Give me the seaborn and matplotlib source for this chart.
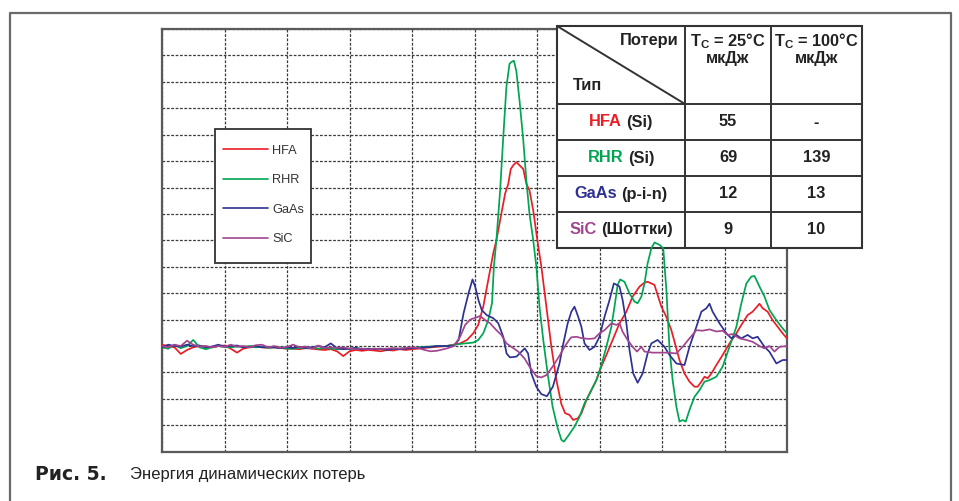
import numpy as np
import pandas as pd
import matplotlib
matplotlib.use("Agg")
import matplotlib.pyplot as plt
import seaborn as sns
from matplotlib.lines import Line2D
from matplotlib.patches import Rectangle

# ---------------- data ----------------
series_names = ["HFA", "RHR", "GaAs", "SiC"]
series_colors = ["#ec1c24", "#00a551", "#2e3192", "#a3448f"]

flat_x = [0.0, 0.1, 0.2, 0.3, 0.4, 0.5, 0.6, 0.7, 0.8, 0.9,
          1.0, 1.1, 1.2, 1.3, 1.4, 1.5, 1.6, 1.7, 1.8, 1.9,
          2.0, 2.1, 2.2, 2.3, 2.4, 2.5, 2.6, 2.7, 2.8, 2.9,
          3.0, 3.1, 3.2, 3.3, 3.4, 3.5, 3.6, 3.7, 3.8, 3.9,
          4.0, 4.1, 4.2, 4.3, 4.4]

hfa_flat = [4.05, 4.0, 3.95, 3.7, 3.85, 3.95, 4.0, 3.98, 3.95, 4.0,
            4.02, 3.9, 3.75, 3.9, 3.95, 3.98, 3.95, 3.93, 3.95, 3.92,
            3.9, 3.9, 3.88, 3.92, 3.9, 3.87, 3.85, 3.88, 3.8, 3.62,
            3.8, 3.85, 3.82, 3.85, 3.83, 3.8, 3.85, 3.83, 3.88, 3.85,
            3.88, 3.9, 3.93, 3.95, 3.97]
rhr_flat = [3.95, 3.9, 4.05, 3.92, 4.0, 4.23, 3.95, 3.88, 3.95, 4.0,
            3.97, 3.95, 3.98, 3.97, 4.0, 3.95, 3.97, 3.93, 3.95, 3.95,
            3.9, 3.9, 3.93, 3.92, 3.95, 3.9, 3.92, 3.9, 3.88, 3.9,
            3.88, 3.92, 3.9, 3.88, 3.9, 3.87, 3.88, 3.9, 3.9, 3.92,
            3.93, 3.95, 3.97, 3.98, 4.0]
gaas_flat = [3.95, 4.05, 4.0, 3.98, 4.05, 4.0, 4.02, 3.95, 3.98, 4.05,
             3.98, 4.0, 4.02, 3.95, 3.97, 4.0, 3.95, 3.97, 3.95, 3.92,
             3.95, 3.93, 3.97, 3.92, 3.95, 4.0, 3.95, 4.1, 3.92, 3.88,
             3.9, 3.93, 3.87, 3.9, 3.88, 3.9, 3.85, 3.9, 3.88, 3.9,
             3.92, 3.93, 3.95, 3.97, 4.0]
sic_flat = [4.0, 3.95, 4.05, 4.0, 4.2, 4.05, 3.98, 4.0, 3.95, 4.0,
            3.97, 4.05, 3.98, 4.0, 3.95, 4.03, 4.05, 3.95, 4.0, 3.93,
            3.97, 4.05, 3.95, 3.98, 3.9, 4.02, 3.92, 3.95, 3.93, 3.95,
            3.9, 3.88, 3.9, 3.87, 3.9, 3.88, 3.9, 3.92, 3.9, 3.93,
            3.95, 3.93, 3.85, 3.8, 3.82]

hfa_x = [4.55, 4.77, 4.88, 4.98, 5.06, 5.14, 5.22, 5.30, 5.35, 5.41, 5.49, 5.54, 5.58,
         5.62, 5.67, 5.72, 5.78, 5.83, 5.88, 5.94, 6.0, 6.07, 6.15, 6.23, 6.31, 6.39,
         6.45, 6.52, 6.58, 6.65, 6.71, 6.79, 6.87, 6.95, 7.03, 7.11, 7.21, 7.32, 7.43,
         7.53, 7.64, 7.72, 7.77, 7.83, 7.88, 7.93, 7.99, 8.07, 8.15, 8.23, 8.28, 8.36,
         8.44, 8.52, 8.57, 8.63, 8.68, 8.73, 8.79, 8.87, 8.97, 9.08, 9.19, 9.27, 9.37,
         9.45, 9.56, 9.61, 9.69, 9.77, 9.85, 9.93, 10.0]
hfa_y = [4.0, 4.1, 4.23, 4.48, 4.8, 5.49, 6.5, 7.51, 8.0, 8.76, 9.77, 10.14, 10.7,
         10.84, 10.96, 10.84, 10.7, 10.14, 9.89, 9.13, 8.1, 7.0, 5.49, 3.97, 2.71, 1.8,
         1.46, 1.39, 1.2, 1.26, 1.45, 1.95, 2.33, 2.71, 3.22, 3.66, 4.23, 4.86, 5.3,
         5.87, 6.25, 6.4, 6.43, 6.37, 6.31, 5.93, 5.49, 5.1, 4.6, 3.9, 3.47, 2.96,
         2.65, 2.46, 2.46, 2.65, 2.84, 2.78, 2.96, 3.28, 3.66, 4.1, 4.48, 4.8, 5.17,
         5.3, 5.6, 5.43, 5.3, 4.98, 4.73, 4.48, 4.29]

rhr_x = [4.55, 4.77, 4.98, 5.06, 5.14, 5.22, 5.28, 5.31, 5.35, 5.41, 5.46, 5.51, 5.56,
         5.59, 5.63, 5.67, 5.72, 5.78, 5.83, 5.88, 5.94, 5.99, 6.04, 6.10, 6.17, 6.25,
         6.33, 6.39, 6.43, 6.49, 6.60, 6.68, 6.76, 6.87, 6.95, 7.03, 7.11, 7.19, 7.24,
         7.29, 7.33, 7.40, 7.48, 7.56, 7.61, 7.67, 7.72, 7.77, 7.83, 7.88, 7.96, 8.02,
         8.07, 8.12, 8.17, 8.23, 8.28, 8.33, 8.38, 8.44, 8.52, 8.60, 8.68, 8.76, 8.87,
         8.97, 9.08, 9.19, 9.27, 9.35, 9.43, 9.48, 9.56, 9.64, 9.72, 9.83, 9.93, 10.0]
rhr_y = [4.0, 4.08, 4.13, 4.23, 4.48, 4.98, 5.62, 7.0, 8.0, 9.89, 11.9, 13.8, 14.68,
         14.75, 14.8, 14.4, 13.3, 11.8, 10.27, 9.0, 8.0, 7.0, 5.49, 4.23, 2.96, 1.7,
         0.9, 0.45, 0.38, 0.57, 0.95, 1.32, 1.83, 2.33, 2.71, 3.28, 3.97, 4.73, 5.49,
         6.31, 6.52, 6.43, 5.99, 5.68, 5.62, 5.87, 6.37, 7.13, 7.7, 7.92, 7.83, 7.7,
         6.12, 3.9, 2.71, 1.7, 1.14, 1.2, 1.14, 1.58, 2.08, 2.33, 2.65, 2.71, 2.84,
         3.22, 3.97, 4.73, 5.62, 6.37, 6.63, 6.65, 6.25, 5.87, 5.36, 4.98, 4.67, 4.48]

gaas_x = [4.55, 4.667, 4.746, 4.825, 4.905, 4.968, 5.011, 5.063, 5.116, 5.196, 5.302,
          5.381, 5.46, 5.513, 5.566, 5.672, 5.804, 5.857, 5.91, 5.989, 6.069, 6.159,
          6.254, 6.36, 6.41, 6.49, 6.55, 6.6, 6.65, 6.71, 6.76, 6.84, 6.92, 7.0, 7.08,
          7.16, 7.23, 7.28, 7.32, 7.37, 7.43, 7.48, 7.54, 7.61, 7.69, 7.77, 7.83, 7.93,
          8.04, 8.12, 8.23, 8.36, 8.44, 8.55, 8.63, 8.71, 8.76, 8.81, 8.92, 9.03, 9.11,
          9.19, 9.27, 9.37, 9.45, 9.53, 9.64, 9.72, 9.83, 9.93, 10.0]
gaas_y = [4.0, 4.0, 4.23, 5.24, 6.0, 6.52, 6.25, 5.74, 5.36, 5.17, 5.05,
          4.86, 4.35, 3.72, 3.57, 3.6, 3.91, 3.72, 2.96, 2.46, 2.18, 2.1,
          2.46, 3.34, 3.97, 4.85, 5.3, 5.49, 5.17, 4.73, 4.1, 3.85, 3.97, 4.35, 5.1,
          5.74, 6.37, 6.31, 6.25, 5.74, 4.86, 3.85, 2.96, 2.61, 2.96, 3.72, 4.1, 4.23,
          3.97, 3.66, 3.34, 3.28, 3.97, 4.73, 5.3, 5.43, 5.6, 5.3, 4.86, 4.48, 4.29,
          4.42, 4.29, 4.42, 4.29, 4.35, 3.97, 3.78, 3.34, 3.47, 3.47]

sic_x = [4.56, 4.67, 4.77, 4.85, 4.93, 5.04, 5.09, 5.17, 5.25, 5.35, 5.43, 5.51, 5.59,
         5.70, 5.80, 5.88, 5.99, 6.07, 6.15, 6.25, 6.36, 6.44, 6.52, 6.55, 6.63, 6.73,
         6.84, 6.92, 7.0, 7.08, 7.19, 7.27, 7.32, 7.37, 7.45, 7.53, 7.60, 7.67, 7.72,
         7.85, 8.07, 8.23, 8.33, 8.44, 8.55, 8.65, 8.76, 8.87, 8.97, 9.05, 9.13, 9.24,
         9.35, 9.45, 9.56, 9.64, 9.72, 9.80, 9.88, 10.0]
sic_y = [3.91, 4.0, 4.35, 4.8, 5.0, 5.09, 5.14, 4.98, 4.86, 4.6, 4.42, 4.1, 3.97,
         3.79, 3.53, 3.22, 2.86, 2.81, 2.9, 3.22, 3.63, 3.97, 4.25, 4.33, 4.35, 4.29,
         4.27, 4.29, 4.48, 4.6, 4.86, 4.8, 4.86, 4.54, 4.23, 3.97, 3.79, 3.97, 3.79,
         3.75, 3.75, 3.72, 3.97, 4.29, 4.6, 4.58, 4.63, 4.55, 4.58, 4.42, 4.45, 4.29,
         4.23, 4.16, 4.0, 3.91, 4.0, 3.79, 3.97, 4.0]

table_header_loss = "Потери"
table_header_type = "Тип"
table_col_heads = ["T$_{\\mathrm{C}}$ = 25°C", "T$_{\\mathrm{C}}$ = 100°C"]
table_unit = "мкДж"
table_names = ["HFA", "RHR", "GaAs", "SiC"]
table_suffix = ["(Si)", "(Si)", "(p-i-n)", "(Шоттки)"]
table_25 = ["55", "69", "12", "9"]
table_100 = ["-", "139", "13", "10"]

caption_bold = "Рис. 5."
caption_text = "Энергия динамических потерь"

# ---------------- figure ----------------
W, H = 959, 501
sns.set_theme(style="white")
plt.rcParams["font.family"] = ["Liberation Sans", "DejaVu Sans"]
plt.rcParams["mathtext.fontset"] = "custom"
plt.rcParams["mathtext.rm"] = "Liberation Sans:bold"
plt.rcParams["mathtext.it"] = "Liberation Sans:bold"
plt.rcParams["mathtext.bf"] = "Liberation Sans:bold"

fig = plt.figure(figsize=(W / 100, H / 100), dpi=100)
fig.patch.set_facecolor("white")


def fx(px):
    return px / W


def fy(py):
    return 1 - py / H


ax = fig.add_axes([fx(162), fy(451.7), fx(787) - fx(162), fy(29) - fy(451.7)])

frames = []
for name, fxs, fys, axs, ays in [
    ("HFA", flat_x, hfa_flat, hfa_x, hfa_y),
    ("RHR", flat_x, rhr_flat, rhr_x, rhr_y),
    ("GaAs", flat_x, gaas_flat, gaas_x, gaas_y),
    ("SiC", flat_x, sic_flat, sic_x, sic_y),
]:
    frames.append(pd.DataFrame({"x": list(fxs) + list(axs),
                                "y": list(fys) + list(ays),
                                "series": name}))
df = pd.concat(frames, ignore_index=True)

palette = dict(zip(series_names, series_colors))
sns.lineplot(data=df, x="x", y="y", hue="series", hue_order=series_names,
             palette=palette, estimator=None, sort=False, linewidth=1.25,
             legend=False, ax=ax, zorder=3)

ax.set_xlim(0, 10)
ax.set_ylim(0, 16)
ax.set_xticks(range(11))
ax.set_yticks(range(17))
ax.set_xticklabels([])
ax.set_yticklabels([])
ax.tick_params(length=0)
ax.set_xlabel("")
ax.set_ylabel("")
ax.grid(True, color="#3a3a3a", linestyle=(0, (2.2, 1.3)), linewidth=0.9)
ax.set_axisbelow(True)
for sp in ax.spines.values():
    sp.set_color("#5a5a5a")
    sp.set_linewidth(1.6)
    sp.set_visible(True)

# legend: frame drawn separately, entries through ax.legend
legbox = Rectangle((fx(215), fy(263)), fx(311) - fx(215), fy(129) - fy(263),
                   transform=fig.transFigure, facecolor="white", edgecolor="#333333",
                   linewidth=1.3, clip_on=False, zorder=4.5)
ax.add_patch(legbox)
handles = [Line2D([0], [0], color=c, lw=1.2) for c in series_colors]
leg = ax.legend(handles, series_names, loc="upper left",
                bbox_to_anchor=(fx(223), fy(144.5)), bbox_transform=fig.transFigure,
                fontsize=9.2, frameon=False, handlelength=3.55, handletextpad=0.3,
                labelspacing=1.38, borderpad=0, borderaxespad=0)
for t in leg.get_texts():
    t.set_color("#333333")
leg.set_zorder(5)

# table (drawn in figure pixel positions)
tx0, tx1, tx2, tx3 = 557, 685, 771, 862
rows_y = [26, 104, 140, 176, 212, 248]
tcol = "#333333"
rect = Rectangle((fx(tx0), fy(rows_y[-1])), fx(tx3) - fx(tx0), fy(rows_y[0]) - fy(rows_y[-1]),
                 transform=fig.transFigure, facecolor="white", edgecolor=tcol,
                 linewidth=1.5, clip_on=False, zorder=2.6)
ax.add_patch(rect)


def tline(x0, y0, x1, y1):
    ln = Line2D([fx(x0), fx(x1)], [fy(y0), fy(y1)], transform=fig.transFigure,
                color=tcol, linewidth=1.4, clip_on=False, zorder=2.7)
    ax.add_line(ln)


for xv in (tx1, tx2):
    tline(xv, rows_y[0], xv, rows_y[-1])
for yv in rows_y[1:-1]:
    tline(tx0, yv, tx3, yv)
tline(tx0, rows_y[0], tx1, rows_y[1])

fs_t = 11.8
dark = "#222222"
fig.text(fx(679), fy(41), table_header_loss, ha="right", va="center",
         fontsize=fs_t, fontweight="bold", color=dark)
fig.text(fx(573), fy(86), table_header_type, ha="left", va="center",
         fontsize=fs_t, fontweight="bold", color=dark)
for cx, head in zip([(tx1 + tx2) / 2, (tx2 + tx3) / 2], table_col_heads):
    fig.text(fx(cx), fy(41), head, ha="center", va="center",
             fontsize=fs_t, fontweight="bold", color=dark)
    fig.text(fx(cx), fy(59), table_unit, ha="center", va="center",
             fontsize=fs_t, fontweight="bold", color=dark)

row_centers = [(rows_y[i] + rows_y[i + 1]) / 2 for i in range(1, 5)]
pairs = []
for i, cy in enumerate(row_centers):
    t1 = fig.text(0, fy(cy), table_names[i], ha="left", va="center",
                  fontsize=fs_t, fontweight="bold", color=series_colors[i])
    t2 = fig.text(0, fy(cy), table_suffix[i], ha="left", va="center",
                  fontsize=fs_t, fontweight="bold", color=dark)
    pairs.append((t1, t2, (tx0 + tx1) / 2))
    fig.text(fx((tx1 + tx2) / 2), fy(cy), table_25[i], ha="center", va="center",
             fontsize=fs_t, fontweight="bold", color=dark)
    fig.text(fx((tx2 + tx3) / 2), fy(cy), table_100[i], ha="center", va="center",
             fontsize=fs_t, fontweight="bold", color=dark)

# caption
cap1 = fig.text(fx(35), fy(475), caption_bold, ha="left", va="center",
                fontsize=13.5, fontweight="bold", color="#222222",
                family=["DejaVu Sans"])
cap2 = fig.text(fx(130), fy(475), caption_text, ha="left", va="center",
                fontsize=12, color="#222222",
                family=["Liberation Sans", "DejaVu Sans"])

fig.canvas.draw()
r = fig.canvas.get_renderer()
gap = 0.278 * fs_t * 100 / 72
for t1, t2, cx in pairs:
    w1 = t1.get_window_extent(r).width
    w2 = t2.get_window_extent(r).width
    start = cx - (w1 + gap + w2) / 2
    t1.set_x(fx(start))
    t2.set_x(fx(start + w1 + gap))

# outer border
border = Line2D([fx(10), fx(10), fx(951), fx(951)], [fy(520), fy(13), fy(13), fy(520)],
                transform=fig.transFigure, color="#6a6a6a", linewidth=1.6)
fig.add_artist(border)

fig.savefig("out.png", dpi=100, facecolor="white")
